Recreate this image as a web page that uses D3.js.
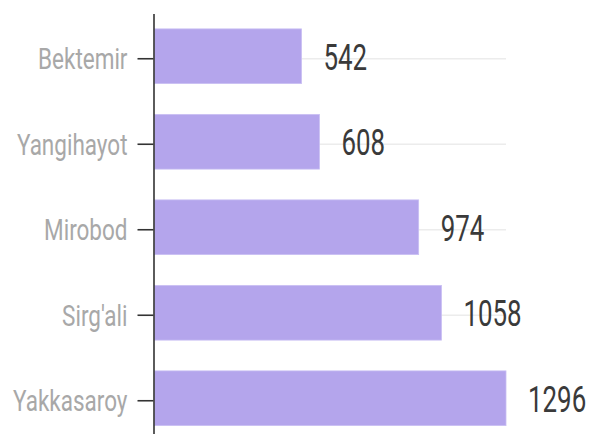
<!DOCTYPE html>
<html>
<head>
<meta charset="utf-8">
<script src="https://cdn.jsdelivr.net/npm/d3@7"></script>
<style>
html,body{margin:0;padding:0;background:#fff;}
svg{display:block;}
</style>
</head>
<body>
<div id="chart"></div>
<script>
const categories = ["Bektemir", "Yangihayot", "Mirobod", "Sirg'ali", "Yakkasaroy"];
const values = [542, 608, 974, 1058, 1296];

const W = 603, H = 434;
const x0 = 154.5, x1 = 506;
const svg = d3.select("#chart").append("svg").attr("width", W).attr("height", H);

const x = d3.scaleLinear().domain([0, d3.max(values)]).range([x0, x1]);
const y = d3.scaleBand().domain(categories).range([13.5, 441]).paddingInner(0.36).paddingOuter(0.18);
const tickY = d => y(d) + y.bandwidth() / 2 + 2.5;

// gridlines
svg.append("g").selectAll("line").data(categories).join("line")
  .attr("x1", x0).attr("x2", x1)
  .attr("y1", d => tickY(d)).attr("y2", d => tickY(d))
  .attr("stroke", "#ececec").attr("stroke-width", 1.5);

// bars
svg.append("g").selectAll("rect").data(categories).join("rect")
  .attr("x", x(0)).attr("y", d => y(d))
  .attr("width", (d, i) => x(values[i]) - x(0))
  .attr("height", y.bandwidth())
  .attr("fill", "#b4a5ec")
  .attr("stroke", "#c9bff3").attr("stroke-width", 0.8);

// axis
const axis = d3.axisLeft(y).tickSize(16).tickSizeOuter(0).tickFormat("");
const ag = svg.append("g").attr("transform", "translate(153.5,0)").call(axis);
ag.select(".domain").attr("stroke", "#333").attr("stroke-width", 1.6);
ag.selectAll(".tick").attr("transform", d => `translate(0,${tickY(d)})`);
ag.selectAll(".tick line").attr("stroke", "#333").attr("stroke-width", 1.6);
ag.selectAll(".tick").append("g")
  .attr("transform", "translate(-26,0) scale(0.75,1)")
  .append("text")
  .attr("x", 0).attr("y", 0).attr("dy", "0.355em")
  .attr("text-anchor", "end")
  .attr("fill", "#a8a8a8")
  .style("font-family", "Roboto")
  .style("font-size", "30px")
  .text(d => d);

// value labels
svg.append("g").selectAll("g").data(categories).join("g")
  .attr("transform", (d, i) => `translate(${x(values[i]) + 22},${y(d) + y.bandwidth() / 2 + 0.5}) scale(0.7,1)`)
  .append("text")
  .attr("dy", "0.355em")
  .attr("fill", "#3a3a3a")
  .style("font-family", "Roboto")
  .style("font-size", "37px")
  .text((d, i) => values[i]);
</script>
</body>
</html>
